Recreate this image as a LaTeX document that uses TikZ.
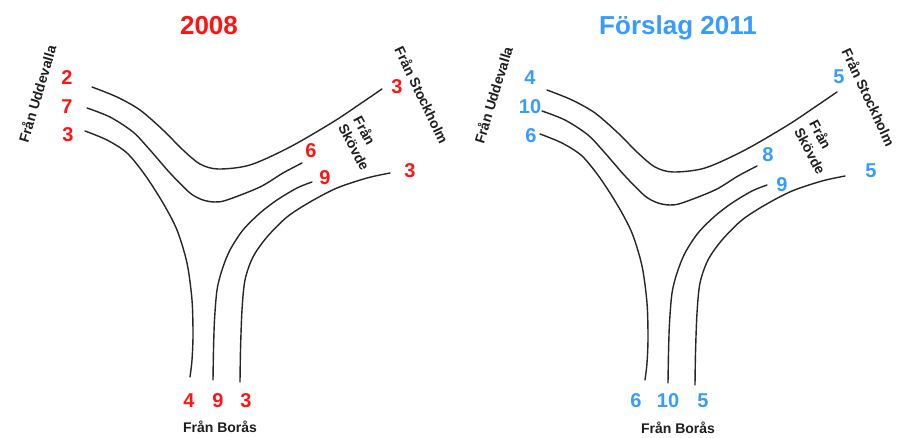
\documentclass[tikz,border=0pt]{standalone}
\usepackage{fontspec}
\setmainfont{Liberation Sans}
\usetikzlibrary{calc}
\definecolor{numred}{RGB}{255,20,20}
\definecolor{numblue}{RGB}{55,155,255}
\definecolor{labgray}{RGB}{30,30,30}
\newcommand{\drawlanes}[1]{%
  \coordinate (#1-uA) at (92,87);
  \coordinate (#1-sA) at (382,89);
  \coordinate (#1-uB) at (87,108);
  \coordinate (#1-kB) at (302,163);
  \coordinate (#1-uC) at (85,131);
  \coordinate (#1-bC) at (190,377);
  \coordinate (#1-kD) at (312,182);
  \coordinate (#1-bD) at (213,380);
  \coordinate (#1-kE) at (390,173);
  \coordinate (#1-bE) at (240,382);
  \draw[lane] plot[smooth] coordinates {(#1-uA) (117,97) (140,110) (163,130) (183,150) (200,164) (218,169) (250,165) (290,147) (333,122) (360,104) (#1-sA)};
  \draw[lane] plot[smooth] coordinates {(#1-uB) (110,117) (133,132) (150,150) (170,173) (190,193) (203,200) (215,202) (227,200) (260,187) (283,173) (#1-kB)};
  \draw[lane] plot[smooth] coordinates {(#1-uC) (107,140) (127,153) (145,175) (163,203) (177,230) (187,263) (192,300) (193,335) (192,360) (#1-bC)};
  \draw[lane] plot[smooth] coordinates {(#1-kD) (297,188) (277,200) (260,213) (243,230) (230,250) (222,270) (217,290) (214.5,320) (213.5,350) (#1-bD)};
  \draw[lane] plot[smooth] coordinates {(#1-kE) (367,178) (337,188) (310,202) (287,217) (267,237) (253,257) (245,280) (242,310) (240.5,350) (#1-bE)};
}
\begin{document}
\begin{tikzpicture}[x=1pt,y=-1pt,
  lane/.style={draw=black!85, line width=1.4pt, line cap=round},
  titletext/.style={font=\fontsize{26}{30}\selectfont\bfseries, anchor=base, inner sep=0pt},
  num/.style={font=\fontsize{20}{24}\selectfont\bfseries, inner sep=0pt},
  redn/.style={num, text=numred},
  bluen/.style={num, text=numblue},
  place/.style={font=\fontsize{14}{17}\selectfont\bfseries, text=labgray, inner sep=0pt}]
\useasboundingbox[fill=white] (0,0) rectangle (897,438);

% ---------- 2008 ----------
\node[titletext, text=numred] (t1) at (209,35) {2008};
\drawlanes{L}
\node[place, rotate=73.5] (lu) at (37,94) {Från Uddevalla};
\node[place, rotate=-64.5] (ls) at (422,95) {Från Stockholm};
\node[place, rotate=-62, align=left] (lk) at (362,143) {Från\\Skövde};
\node[place] (lb) at (220,427) {Från Borås};
\node[redn] (l1) at (67,78) {2};
\node[redn] (l2) at (67,107) {7};
\node[redn] (l3) at (68,135) {3};
\node[redn] (l4) at (397,87) {3};
\node[redn] (l5) at (311,151) {6};
\node[redn] (l6) at (325,178) {9};
\node[redn] (l7) at (410,171) {3};
\node[redn] (l8) at (189,401) {4};
\node[redn] (l9) at (218,401) {9};
\node[redn] (l10) at (246,401) {3};

% ---------- Förslag 2011 ----------
\node[titletext, text=numblue] (t2) at (678,35) {Förslag 2011};
\begin{scope}[shift={(455,3)}]
\drawlanes{R}
\end{scope}
\node[place, rotate=73] (ru) at (493,95) {Från Uddevalla};
\node[place, rotate=-65] (rs) at (869,97) {Från Stockholm};
\node[place, rotate=-62, align=left] (rk) at (818,147) {Från\\Skövde};
\node[place] (rb) at (678,428) {Från Borås};
\node[bluen] (r1) at (530,78) {4};
\node[bluen] (r2) at (530,107) {10};
\node[bluen] (r3) at (531,136) {6};
\node[bluen] (r4) at (839,77) {5};
\node[bluen] (r5) at (768,155) {8};
\node[bluen] (r6) at (782,185) {9};
\node[bluen] (r7) at (871,171) {5};
\node[bluen] (r8) at (636,401) {6};
\node[bluen] (r9) at (668,401) {10};
\node[bluen] (r10) at (703,401) {5};
\end{tikzpicture}
\end{document}
